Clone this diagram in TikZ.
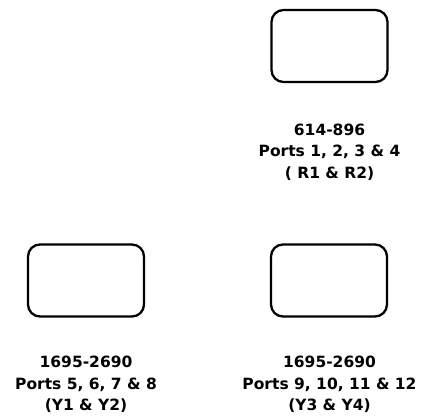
\documentclass[tikz,border=0pt]{standalone}
\usepackage{fontspec}
\setmainfont{DejaVu Sans}
\begin{document}
\begin{tikzpicture}[x=1pt,y=-1pt,
  portbox/.style={draw=black,line width=2.3pt,rounded corners=12pt,minimum width=116pt,minimum height=72pt,inner sep=0pt},
  portlabel/.style={align=center,font=\bfseries\fontsize{15.5}{21.5}\selectfont,inner sep=0pt}]
\useasboundingbox (0,0) rectangle (424,420);
\node[portbox] (r) at (329.5,46) {};
\node[portlabel] (rl) at (329.5,152) {614-896\\Ports 1, 2, 3 \& 4\\( R1 \& R2)};
\node[portbox] (y1) at (86,280.5) {};
\node[portlabel] (y1l) at (86,384.5) {1695-2690\\Ports 5, 6, 7 \& 8\\(Y1 \& Y2)};
\node[portbox] (y3) at (329,280.5) {};
\node[portlabel] (y3l) at (329.5,384.5) {1695-2690\\Ports 9, 10, 11 \& 12\\(Y3 \& Y4)};
\end{tikzpicture}
\end{document}
